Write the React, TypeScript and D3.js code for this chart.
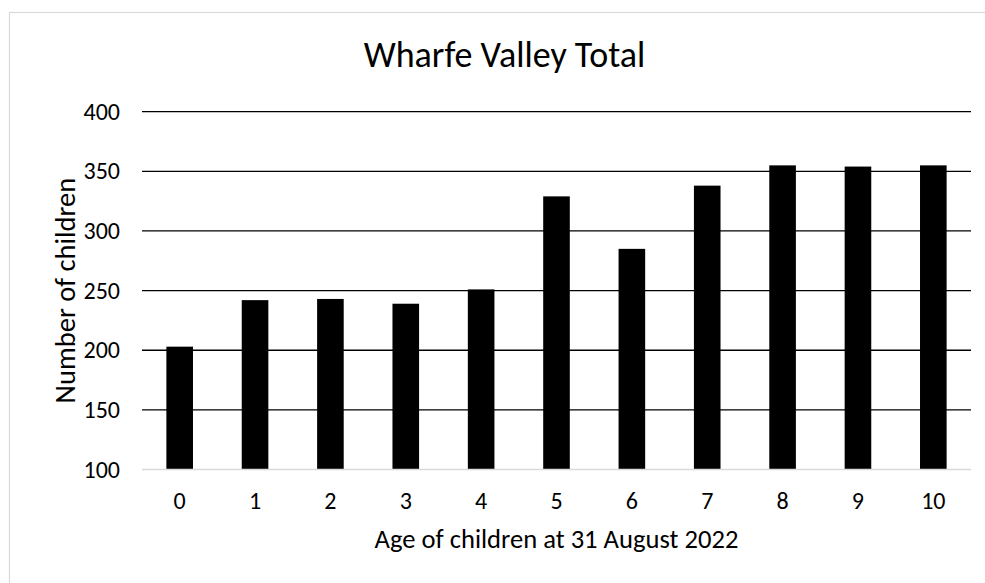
import React from "react"
import * as d3 from "d3"

// data
const ages = ["0", "1", "2", "3", "4", "5", "6", "7", "8", "9", "10"]
const children = [203, 242, 243, 239, 251, 329, 285, 338, 355, 354, 355]
const yTicks = [100, 150, 200, 250, 300, 350, 400]

const title = "Wharfe Valley Total"
const xTitle = "Age of children at 31 August 2022"
const yTitle = "Number of children"

const W = 985
const H = 583
const margin = {top: 111.7, right: 14, bottom: 113.5, left: 142}
const FONT = "Carlito, 'Open Sans', sans-serif"

export default function App() {
    const x = d3.scaleBand()
        .domain(ages)
        .range([margin.left, W - margin.right])
        .paddingInner(0.647)
        .paddingOuter(0.3235)

    const y = d3.scaleLinear()
        .domain([100, 400])
        .range([H - margin.bottom, margin.top])

    const plotMid = (y(100) + y(400)) / 2

    return (
        <svg width={W} height={H} style={{position: "absolute", left: 0, top: 0, background: "#fff"}}
            fontFamily={FONT}>
            {/* chart area border */}
            <rect x={9.5} y={12.5} width={W + 10} height={H + 10} fill="#fff" stroke="#d9d9d9" strokeWidth={1.2} />

            <text x={504.5} y={66.5} textAnchor="middle" fontSize={36} fill="#000">{title}</text>

            {/* gridlines + y labels */}
            {yTicks.map(t => (
                <g key={t}>
                    {t > 100 && (
                        <line x1={margin.left} x2={W - margin.right} y1={y(t)} y2={y(t)}
                            stroke="#000" strokeWidth={1.3} />
                    )}
                    <text x={120} y={y(t)} dy="0.34em" textAnchor="end" fontSize={24} fill="#000">{t}</text>
                </g>
            ))}

            {/* bars */}
            {children.map((v, i) => (
                <rect key={i} x={x(ages[i])} width={x.bandwidth()} y={y(v)} height={y(100) - y(v)}
                    fill="#000" />
            ))}

            {/* x axis line */}
            <line x1={margin.left} x2={W - margin.right} y1={y(100)} y2={y(100)}
                stroke="#d9d9d9" strokeWidth={1.3} />

            {ages.map(a => (
                <text key={a} x={(x(a) as number) + x.bandwidth() / 2} y={509} textAnchor="middle"
                    fontSize={24} fill="#000">{a}</text>
            ))}

            <text x={(margin.left + W - margin.right) / 2} y={548} textAnchor="middle" fontSize={26.6} fill="#000">
                {xTitle}
            </text>
            <text transform={`translate(75,${plotMid}) rotate(-90)`} textAnchor="middle" fontSize={28.5} fill="#000">
                {yTitle}
            </text>
        </svg>
    )
}
